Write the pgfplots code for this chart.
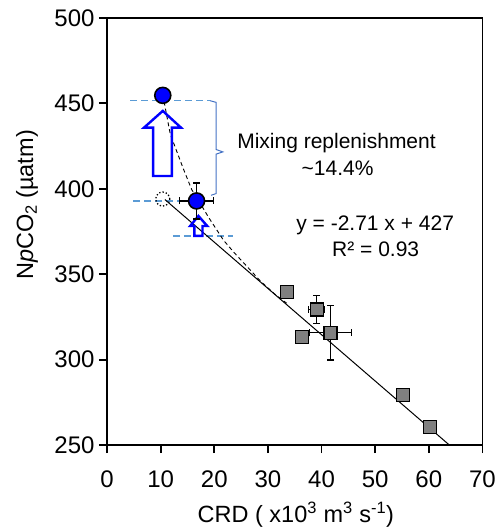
\documentclass[border=0pt]{standalone}
\usepackage{fontspec}
\setmainfont{Liberation Sans}
\usepackage{pgfplots}
\pgfplotsset{compat=1.18}
\definecolor{mixblue}{RGB}{0,0,255}
\definecolor{guide}{RGB}{91,155,213}
\definecolor{brace}{RGB}{68,114,196}
\definecolor{sq}{RGB}{128,128,128}

\begin{document}
\begin{tikzpicture}
\begin{axis}[
  scale only axis, width=375.4pt, height=427pt,
  xmin=0, xmax=70, ymin=250, ymax=500,
  xtick={0,10,...,70}, ytick={250,300,...,500},
  tick pos=left, tick align=outside, major tick length=8pt,
  axis line style={line width=1.8pt},
  tick style={line width=1.8pt, black},
  /pgf/number format/assume math mode=true,
  ticklabel style={font=\fontsize{24}{26}\selectfont},
  xticklabel style={yshift=-14pt},
  yticklabel style={xshift=-1pt},
  label style={font=\fontsize{23.5}{26}\selectfont},
  xlabel={CRD ( x10\textsuperscript{3} m\textsuperscript{3} s\textsuperscript{-1})},
  ylabel={N\textit{p}CO\textsubscript{2} (µatm)},
  xlabel style={at={(axis description cs:0.503,0)}, anchor=center, yshift=-70pt},
  ylabel style={at={(axis description cs:-0.213,0.562)}, anchor=center},
  clip=true,
]
% guide lines and bracket
\addplot[guide, line width=1.3pt, dash pattern=on 7pt off 4pt] coordinates {(4.3,451.8) (19.2,451.8)};
\addplot[guide, line width=1.3pt, dash pattern=on 7pt off 4pt] coordinates {(4.9,392.9) (14.6,392.9)};
\addplot[guide, line width=1.3pt, dash pattern=on 7pt off 4pt] coordinates {(12.3,372.4) (23.5,372.4)};
\addplot[brace, line width=1pt] coordinates {(19.2,451.6) (20.35,450.6) (20.35,423) (21.6,421.6) (20.35,420.3) (20.35,397.2) (19.4,396.2)};

% regression and mixing curve
\addplot[black, line width=1pt] coordinates {(10.8,393.7) (64.2,249)};
\addplot[black, line width=0.9pt, dash pattern=on 4pt off 3pt] coordinates {
  (10.4,455) (11.8,432) (14.2,412) (15.8,399.5) (17,393.5) (19,383) (21.7,370)
  (23.6,363) (26.7,352.5) (28.6,346) (31.4,338) (33.5,333)};

% arrows
\addplot[mixblue, line width=2.4pt, line join=miter] coordinates {
  (8.6,407.5) (12.1,407.5) (12.1,435.8) (13.8,435.8) (10.4,445.6) (6.9,435.8) (8.6,435.8)} --cycle;
\addplot[mixblue, line width=2.4pt, line join=miter] coordinates {
  (16.3,372.4) (17.8,372.4) (17.8,378.2) (18.7,378.2) (17.05,384.1) (15.5,378.2) (16.3,378.2)} --cycle;

% observed points
\addplot[only marks, mark=square*, mark size=6.5pt,
  mark options={fill=sq, draw=black, line width=1.3pt}]
  coordinates {(33.6,339.6) (36.3,313.4) (55.2,279.1) (60.2,260.7)};
\addplot[only marks, mark=square*, mark size=6.5pt,
  mark options={fill=sq, draw=black, line width=1.3pt},
  error bars/.cd, x dir=both, y dir=both, x explicit, y explicit,
  error bar style={line width=1.3pt, black},
  error mark options={rotate=90, mark size=3.5pt, line width=1.3pt}]
  coordinates {(39.1,329.4) +- (1.5,8.2) (41.7,315.7) +- (3.9,16)};

% mixing end-members
\addplot[only marks, mark=o, mark size=7pt,
  mark options={draw=black, line width=1.3pt, dotted}]
  coordinates {(10.4,394)};
\addplot[only marks, mark=*, mark size=8pt,
  mark options={fill=mixblue, draw=black, line width=1.6pt}]
  coordinates {(10.4,454.7)};
\addplot[only marks, mark=*, mark size=8pt,
  mark options={fill=mixblue, draw=black, line width=1.6pt},
  error bars/.cd, x dir=both, y dir=both, x explicit, y explicit,
  error bar style={line width=1.3pt, black},
  error mark options={rotate=90, mark size=3.5pt, line width=1.3pt}]
  coordinates {(16.7,392.9) +- (3.2,10.5)};

% annotations
\node[font=\fontsize{21}{24}\selectfont] at (axis cs:42.8,427) {Mixing replenishment};
\node[font=\fontsize{21}{24}\selectfont] at (axis cs:43,411.8) {\textasciitilde14.4\%};
\node[font=\fontsize{21}{24}\selectfont] at (axis cs:50,378.8) {y = -2.71 x + 427};
\node[font=\fontsize{21}{24}\selectfont] at (axis cs:50.1,364.6) {R² = 0.93};

\coordinate (sw) at (rel axis cs:0,0);
\coordinate (ne) at (rel axis cs:1,1);
\end{axis}
\pgfresetboundingbox
\path[use as bounding box] ([shift={(-107pt,-82pt)}]sw) rectangle ([shift={(17.3pt,18pt)}]ne);
\end{tikzpicture}
\end{document}
